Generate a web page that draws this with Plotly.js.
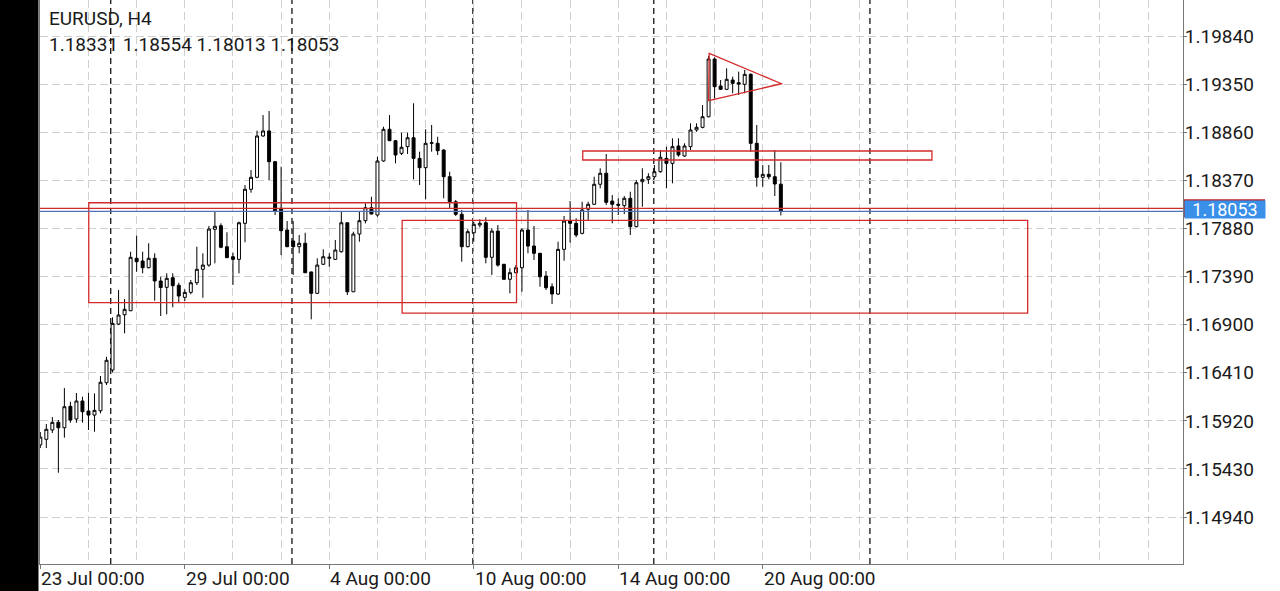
<!DOCTYPE html>
<html>
<head>
<meta charset="utf-8">
<script src="https://cdn.plot.ly/plotly-3.0.1.min.js"></script>
<style>
html,body{margin:0;padding:0;background:#fff;}
#chart{width:1280px;height:591px;}
</style>
</head>
<body>
<div id="chart"></div>
<script>
// ---- data (EURUSD, H4) ----
const symbolTitle = "EURUSD, H4";
const candleIdx = Array.from({length:124}, (_, i) => i);
const openP = [
1.15675,1.15732,1.15827,1.15905,1.15850,1.16068,1.15939,1.16122,1.16020,1.15979,
1.16023,1.16308,1.16438,1.16906,1.17001,1.17042,1.17576,1.17548,1.17480,1.17576,
1.17345,1.17280,1.17378,1.17301,1.17178,1.17229,1.17327,1.17464,1.17507,1.17871,
1.17908,1.17694,1.17592,1.17565,1.17932,1.18279,1.18401,1.18822,1.18873,1.18560,
1.18085,1.17864,1.17752,1.17694,1.17729,1.17437,1.17219,1.17515,1.17576,1.17565,
1.17643,1.17938,1.17235,1.17823,1.17959,1.18091,1.18017,1.18567,1.18890,1.18774,
1.18645,1.18713,1.18804,1.18594,1.18499,1.18747,1.18747,1.18679,1.18407,1.18152,
1.18024,1.17694,1.17836,1.17915,1.17938,1.17586,1.17853,1.17515,1.17362,1.17429,
1.17480,1.17864,1.17701,1.17627,1.17395,1.17286,1.17212,1.17667,1.17956,1.17932,
1.17830,1.18076,1.18126,1.18330,1.18442,1.18159,1.18126,1.18112,1.18187,1.17898,
1.18356,1.18380,1.18407,1.18458,1.18594,1.18543,1.18720,1.18618,1.18713,1.18883,
1.18910,1.19018,1.19606,1.19331,1.19297,1.19392,1.19365,1.19348,1.19450,1.18747,
1.18401,1.18431,1.18407,1.18331];
const highP = [
1.15806,1.15888,1.15959,1.15929,1.16254,1.16115,1.16204,1.16166,1.16207,1.16200,
1.16377,1.16573,1.16975,1.17253,1.17161,1.17643,1.17806,1.17643,1.17729,1.17627,
1.17388,1.17423,1.17423,1.17327,1.17260,1.17355,1.17694,1.17627,1.17905,1.18050,
1.17932,1.17841,1.17633,1.17949,1.18322,1.18475,1.18876,1.19035,1.19076,1.18565,
1.18509,1.17956,1.17956,1.17813,1.17836,1.17439,1.17576,1.17667,1.17627,1.17762,
1.18050,1.17940,1.17847,1.18050,1.18136,1.18203,1.18611,1.18916,1.19035,1.18781,
1.18855,1.18855,1.19155,1.18662,1.18890,1.18934,1.18814,1.18686,1.18458,1.18170,
1.18068,1.17871,1.17949,1.17973,1.17993,1.17881,1.17915,1.17517,1.17474,1.17507,
1.17881,1.18068,1.17905,1.17630,1.17446,1.17321,1.17745,1.18007,1.18159,1.17983,
1.18152,1.18152,1.18407,1.18493,1.18638,1.18220,1.18187,1.18210,1.18254,1.18373,
1.18493,1.18442,1.18526,1.18679,1.18713,1.18798,1.18798,1.18747,1.18951,1.18951,
1.19137,1.19637,1.19623,1.19392,1.19511,1.19426,1.19477,1.19494,1.19460,1.18934,
1.18526,1.18526,1.18679,1.18554];
const lowP = [
1.15643,1.15643,1.15796,1.15392,1.15749,1.15901,1.15901,1.15901,1.15827,1.15809,
1.15997,1.16285,1.16414,1.16896,1.16812,1.17038,1.17439,1.17423,1.17474,1.17144,
1.16988,1.17005,1.17077,1.17123,1.17141,1.17209,1.17304,1.17174,1.17490,1.17525,
1.17678,1.17580,1.17304,1.17423,1.17739,1.18244,1.18391,1.18814,1.18373,1.18017,
1.17609,1.17690,1.17406,1.17627,1.17425,1.16954,1.17215,1.17507,1.17490,1.17558,
1.17633,1.17202,1.17232,1.17745,1.17932,1.18025,1.17999,1.18560,1.18770,1.18543,
1.18628,1.18638,1.18380,1.18322,1.18177,1.18662,1.18628,1.18187,1.18085,1.18007,
1.17541,1.17688,1.17745,1.17891,1.17525,1.17406,1.17490,1.17355,1.17219,1.17423,
1.17235,1.17627,1.17558,1.17286,1.17253,1.17110,1.17202,1.17551,1.17735,1.17790,
1.17820,1.17966,1.18119,1.18289,1.18119,1.17932,1.18017,1.18027,1.17813,1.17891,
1.18101,1.18333,1.18391,1.18448,1.18289,1.18340,1.18611,1.18611,1.18679,1.18865,
1.18900,1.19012,1.19205,1.19290,1.19290,1.19257,1.19239,1.19257,1.18662,1.18305,
1.18305,1.18380,1.18210,1.18013];
const closeP = [
1.15755,1.15834,1.15905,1.15850,1.16064,1.15929,1.16122,1.16013,1.15979,1.16027,
1.16313,1.16537,1.16913,1.16998,1.17056,1.17586,1.17541,1.17480,1.17576,1.17345,
1.17278,1.17372,1.17297,1.17192,1.17229,1.17327,1.17464,1.17507,1.17874,1.17902,
1.17688,1.17582,1.17565,1.17938,1.18279,1.18401,1.18822,1.18873,1.18560,1.18058,
1.17857,1.17694,1.17694,1.17729,1.17429,1.17219,1.17507,1.17592,1.17586,1.17660,
1.17938,1.17235,1.17823,1.17959,1.18091,1.18027,1.18567,1.18890,1.18774,1.18628,
1.18707,1.18804,1.18594,1.18499,1.18747,1.18753,1.18672,1.18407,1.18152,1.18024,
1.17694,1.17847,1.17922,1.17932,1.17586,1.17853,1.17507,1.17362,1.17429,1.17480,
1.17864,1.17701,1.17627,1.17388,1.17276,1.17212,1.17667,1.17956,1.17932,1.17813,
1.18068,1.18126,1.18330,1.18442,1.18146,1.18126,1.18116,1.18187,1.17898,1.18346,
1.18380,1.18407,1.18458,1.18605,1.18543,1.18713,1.18628,1.18720,1.18883,1.18910,
1.19018,1.19606,1.19324,1.19297,1.19399,1.19358,1.19351,1.19450,1.18747,1.18401,
1.18431,1.18407,1.18333,1.18053];

// price axis ticks
const priceTicks = [1.19840,1.19350,1.18860,1.18370,1.17880,1.17390,1.16900,1.16410,1.15920,1.15430,1.14940];
// time axis labels (candle index -> label)
const timeLabelIdx = [0,24,48,72,96,120];
const timeLabels = ["23 Jul 00:00","29 Jul 00:00","4 Aug 00:00","10 Aug 00:00","14 Aug 00:00","20 Aug 00:00"];
// weekly period separators (candle index)
const weekSeparators = [11.7,41.8,71.85,101.9,137.8];
// bid / ask
const bidPrice = 1.18053;
const askPrice = 1.18085;
// user objects: rectangles [x0,x1,priceTop,priceBottom]
const rectZones = [
  [8.05, 79.1, 1.18142, 1.17125],
  [60.1, 164.0, 1.17963, 1.17018],
  [90.1, 148.1, 1.18669, 1.18577]
];
// triangle vertices
const triX = [111.1, 123.1, 111.0];
const triY = [1.19664, 1.19354, 1.19181];

// ---- chart ----
const red = '#d42a2a';
const gridCol = '#cfcfcf';
const lastI = closeP.length - 1;
const fmt = v => v.toFixed(5);
const FONT = 'Roboto, "Noto Sans", sans-serif';

const trace = {
  type: 'candlestick',
  x: candleIdx, open: openP, high: highP, low: lowP, close: closeP,
  increasing: {line: {color: '#000', width: 1}, fillcolor: '#ffffff'},
  decreasing: {line: {color: '#000', width: 1}, fillcolor: '#000000'},
  whiskerwidth: 0,
  hoverinfo: 'skip',
  showlegend: false
};

const shapes = [];
// black strip at far left
shapes.push({type:'rect', xref:'paper', yref:'paper', x0:-0.05, x1:-1.5/1143, y0:-0.1, y1:1.1,
  fillcolor:'#000', line:{width:0}, layer:'above'});
weekSeparators.forEach(s => shapes.push({type:'line', xref:'x', yref:'paper', x0:s, x1:s, y0:0, y1:1,
  line:{color:'#000', width:1.2, dash:'6px,4px'}, layer:'below'}));
rectZones.forEach(r => shapes.push({type:'rect', xref:'x', yref:'y', x0:r[0], x1:r[1], y0:r[3], y1:r[2],
  line:{color:red, width:1.3}, fillcolor:'rgba(0,0,0,0)', layer:'above'}));
shapes.push({type:'path', xref:'x', yref:'y',
  path:`M ${triX[0]},${triY[0]} L ${triX[1]},${triY[1]} L ${triX[2]},${triY[2]} Z`,
  line:{color:red, width:1.3}, layer:'above'});
shapes.push({type:'line', xref:'paper', yref:'y', x0:0, x1:1, y0:askPrice, y1:askPrice,
  line:{color:'#c9302c', width:1.2}, layer:'above'});
shapes.push({type:'line', xref:'paper', yref:'y', x0:0, x1:1, y0:bidPrice, y1:bidPrice,
  line:{color:'#4f74b8', width:1.2}, layer:'above'});
// ask price marker on the axis (mostly hidden behind the bid label)
shapes.push({type:'rect', xref:'paper', yref:'y', ysizemode:'pixel', yanchor:askPrice, y0:-9, y1:9,
  x0:1 + 1/1143, x1:1 + 82/1143, fillcolor:'#b8262a', line:{width:0}, layer:'above'});

const annotations = [];
const PW = 1143, PH = 564;
annotations.push({xref:'paper', yref:'paper', x:7/PW, y:1-19/PH, xanchor:'left', yanchor:'middle',
  text:symbolTitle, showarrow:false, font:{family:FONT, size:19, color:'#1a1a1a'}});
annotations.push({xref:'paper', yref:'paper', x:7/PW, y:1-44/PH, xanchor:'left', yanchor:'middle',
  text:[openP[lastI],highP[lastI],lowP[lastI],closeP[lastI]].map(fmt).join(' '),
  showarrow:false, font:{family:FONT, size:19, color:'#1a1a1a'}});
timeLabelIdx.forEach((ix, k) => annotations.push({xref:'x', yref:'paper', x:ix, y:0, xanchor:'left', yanchor:'middle',
  yshift:-14, xshift:-1, text:timeLabels[k], showarrow:false, font:{family:FONT, size:19, color:'#1a1a1a'}}));
// bid label
annotations.push({xref:'paper', yref:'y', x:1, y:bidPrice, xanchor:'left', yanchor:'middle', xshift:1, yshift:1.5,
  text:fmt(bidPrice), showarrow:false, bgcolor:'#3a8fe8', width:80, height:17, borderpad:0,
  font:{family:FONT, size:18, color:'#fff'}});

const layout = {
  width:1280, height:591,
  margin:{l:40, r:97, t:0, b:27, pad:0},
  paper_bgcolor:'#fff', plot_bgcolor:'#fff',
  showlegend:false,
  font:{family:FONT, size:19, color:'#1a1a1a'},
  xaxis:{
    type:'linear', range:[-0.05, 189.8], rangeslider:{visible:false},
    tickmode:'array', tickvals:timeLabelIdx, showticklabels:false,
    ticks:'outside', ticklen:4, tickcolor:'#777', tickwidth:1,
    showgrid:true, gridcolor:gridCol, griddash:'8px,4px', gridwidth:1,
    minor:{tick0:0, dtick:8, showgrid:true, gridcolor:gridCol, griddash:'8px,4px', gridwidth:1, ticks:''},
    showline:true, linecolor:'#777', linewidth:1, zeroline:false, fixedrange:true
  },
  yaxis:{
    side:'right', range:[1.14462, 1.20207],
    tickmode:'array', tickvals:priceTicks, ticktext:priceTicks.map(fmt),
    ticks:'outside', ticklen:3, tickcolor:'#777', ticklabelstandoff:-6,
    tickfont:{family:FONT, size:19, color:'#1a1a1a'},
    showgrid:true, gridcolor:gridCol, griddash:'8px,4px', gridwidth:1,
    showline:true, mirror:true, linecolor:'#777', linewidth:1, zeroline:false, fixedrange:true
  },
  shapes:shapes,
  annotations:annotations
};

Plotly.newPlot('chart', [trace], layout, {staticPlot:true, displayModeBar:false});
</script>
</body>
</html>
